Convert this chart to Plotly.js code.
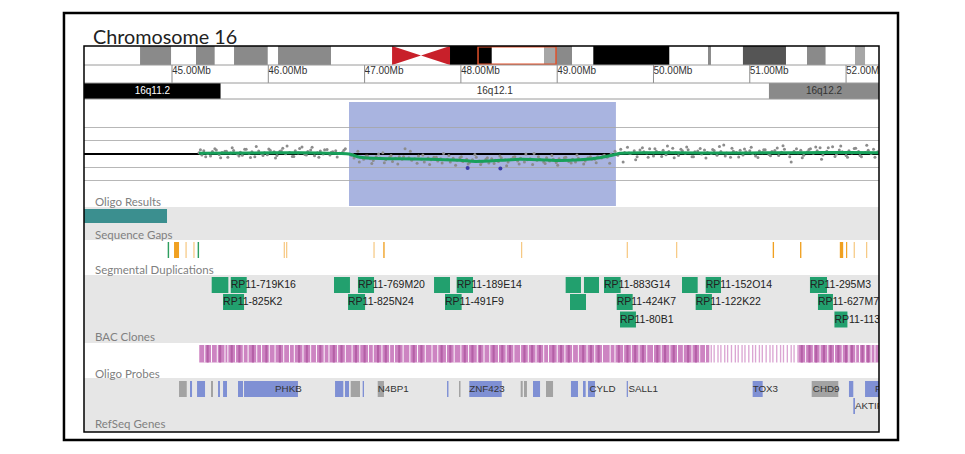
<!DOCTYPE html>
<html><head><meta charset="utf-8">
<script src="https://cdn.plot.ly/plotly-3.0.1.min.js"></script>
<style>body{margin:0;background:#fff}#chart{width:965px;height:454px}</style>
</head><body><div id="chart"></div>
<script>
// ================= DATA =================
const tickMb = [45, 46, 47, 48, 49, 50, 51, 52];
const tickLabels = ['45.00Mb', '46.00Mb', '47.00Mb', '48.00Mb', '49.00Mb', '50.00Mb', '51.00Mb', '52.00Mb'];

// ideogram (non-white bands)
const ideoStart = [44.668, 45.249, 45.644, 46.101, 47.887, 48.863, 48.988, 49.375, 50.566, 50.929, 51.594, 52.093];
const ideoEnd   = [44.990, 45.443, 45.994, 46.651, 48.320, 48.988, 49.154, 50.164, 50.597, 51.376, 51.787, 52.197];
const ideoStain = ['gpos50', 'gpos50', 'gpos50', 'gpos50', 'gpos100', 'gpos33', 'gpos50', 'gpos100', 'gpos50', 'gpos75', 'gpos50', 'gpos33'];
const cenStart = 47.285, cenMid = 47.586, cenEnd = 47.887;
const viewStart = 48.178, viewEnd = 48.988;

// cytobands
const bandName  = ['16q11.2', '16q12.1', '16q12.2'];
const bandStart = [43.9, 45.506, 51.199];
const bandEnd   = [45.506, 51.199, 52.6];
const bandStain = ['gpos100', 'gneg', 'gpos50'];

// deleted region
const delStart = 46.838, delEnd = 49.610;

// oligo results (log2 ratio)
const oligoX = [45.28,45.31,45.33,45.37,45.40,45.42,45.46,45.49,45.52,45.55,45.58,45.61,45.64,45.68,45.71,45.73,45.77,45.80,45.83,45.86,45.90,45.93,45.96,45.99,46.02,46.06,46.09,46.12,46.15,46.18,46.22,46.25,46.28,46.31,46.35,46.38,46.41,46.44,46.48,46.51,46.54,46.57,46.61,46.64,46.67,46.70,46.74,46.77,46.80,
46.86,46.89,46.93,46.96,46.99,47.03,47.06,47.09,47.12,47.16,47.19,47.22,47.26,47.29,47.32,47.36,47.39,47.42,47.46,47.49,47.52,47.56,47.59,47.62,47.66,47.69,47.72,47.76,47.79,47.82,47.86,47.89,47.92,47.96,47.99,48.02,48.06,48.09,48.12,48.16,48.19,48.22,48.26,48.29,48.32,48.36,48.39,48.42,48.46,48.49,48.52,48.56,48.59,48.62,48.66,48.69,48.72,48.76,48.79,48.82,48.86,48.89,48.92,48.96,48.99,49.02,49.06,49.09,49.12,49.16,49.19,49.22,49.26,49.29,49.32,49.36,49.39,49.42,49.46,49.49,49.52,49.56,
49.60,49.63,49.66,49.70,49.73,49.76,49.80,49.83,49.86,49.90,49.93,49.96,50.00,50.03,50.06,50.10,50.13,50.16,50.20,50.23,50.26,50.30,50.33,50.36,50.40,50.43,50.46,50.50,50.53,50.56,50.60,50.63,50.66,50.70,50.73,50.76,50.80,50.83,50.86,50.90,50.93,50.96,51.00,51.03,51.06,51.10,51.13,51.16,51.20,51.23,51.26,51.30,51.33,51.36,51.40,51.43,51.46,51.50,51.53,51.56,51.60,51.63,51.66,51.70,51.73,51.76,51.80,51.83,51.86,51.90,51.93,51.96,52.00,52.03,52.06,52.10,52.13,52.16,52.20,52.23,52.26,52.30,52.33,
45.295,45.35,45.445,45.505,45.565,45.625,45.695,45.755,45.815,45.875,45.945,46.005,46.075,46.135,46.195,46.265,46.325,46.395,46.455,46.525,46.585,46.655,46.715,46.785,
46.875,46.945,47.015,47.075,47.145,47.205,47.275,47.345,47.405,47.475,47.545,47.605,47.675,47.745,47.805,47.875,47.945,48.005,48.075,48.145,48.205,48.275,48.345,48.405,48.475,48.545,48.605,48.675,48.745,48.805,48.875,48.945,49.005,49.075,49.145,49.205,49.275,49.345,49.405,49.475,49.545,
49.615,49.685,49.745,49.815,49.885,49.945,50.015,50.085,50.145,50.215,50.285,50.345,50.415,50.485,50.545,50.615,50.685,50.745,50.815,50.885,50.945,51.015,51.085,51.145,51.215,51.285,51.345,51.415,51.485,51.545,51.615,51.685,51.745,51.815,51.885,51.945,52.015,52.085,52.145,52.215,52.285];
const oligoY = [0.05,-0.04,0.12,0.02,-0.08,0.09,0.15,-0.02,0.06,0.1,-0.12,0.04,0.13,0.0,0.07,-0.05,0.18,0.03,0.08,-0.1,0.11,0.02,0.05,-0.03,0.14,0.08,-0.06,0.1,0.22,0.01,0.06,-0.09,0.12,0.04,0.26,-0.02,0.09,0.15,-0.07,0.05,0.11,0.0,0.17,-0.04,0.08,0.12,0.03,0.06,0.2,
-0.05,-0.15,0.1,-0.12,-0.2,-0.08,-0.18,-0.25,-0.1,-0.15,0.05,-0.22,-0.12,-0.28,-0.16,-0.1,-0.2,0.2,-0.14,-0.24,-0.18,-0.08,-0.2,-0.3,-0.15,-0.22,-0.12,-0.26,-0.18,0.02,-0.2,-0.3,-0.16,-0.24,-0.14,-0.28,-0.2,-0.32,-0.22,-0.12,-0.26,-0.3,-0.2,-0.34,-0.18,-0.24,-0.28,-0.14,-0.22,-0.3,-0.2,-0.1,-0.26,-0.16,-0.3,-0.22,-0.18,0.02,-0.24,-0.2,-0.3,-0.14,-0.26,-0.2,-0.32,-0.18,-0.24,-0.12,-0.28,-0.2,-0.3,-0.16,-0.22,-0.26,-0.14,-0.2,-0.2,-0.1,-0.15,-0.05,-0.12,0.0,
0.1,-0.05,0.18,0.06,0.25,0.02,0.12,-0.1,0.15,0.08,0.04,0.2,-0.08,0.1,0.06,0.14,-0.03,0.09,0.22,0.05,-0.06,0.12,0.03,0.16,-0.1,0.08,0.11,0.0,0.15,0.06,0.02,0.13,-0.05,0.09,0.34,0.04,-0.12,0.1,0.06,0.14,-0.04,0.08,0.12,0.02,-0.08,0.11,0.05,0.16,-0.02,0.09,0.13,-0.06,0.07,0.18,0.02,-0.3,0.1,0.05,0.14,-0.05,0.08,0.2,0.03,0.12,0.24,-0.04,0.1,0.06,0.27,0.0,0.15,0.08,-0.06,0.12,0.04,0.22,0.09,-0.1,0.06,0.14,0.02,-0.12,0.08,
0.16,-0.1,0.2,-0.14,0.1,0.24,-0.08,0.18,-0.13,0.28,-0.06,0.19,-0.15,0.12,0.3,-0.09,0.21,-0.04,0.25,-0.12,0.16,0.07,-0.11,0.14,
-0.02,-0.3,-0.08,-0.36,0.0,-0.33,-0.06,-0.38,-0.1,0.1,-0.35,-0.04,-0.4,-0.12,-0.34,-0.06,-0.42,-0.1,-0.38,-0.02,-0.4,-0.14,-0.36,-0.08,-0.44,-0.12,-0.38,0.0,-0.4,-0.1,-0.36,-0.06,-0.42,-0.14,-0.34,-0.04,-0.38,-0.1,-0.33,-0.08,-0.35,-0.02,-0.3,0.04,-0.22,
0.24,-0.12,0.2,-0.09,0.3,-0.14,0.18,0.26,-0.1,0.21,-0.15,0.17,0.28,-0.08,0.22,-0.11,0.19,0.25,-0.13,0.16,-0.07,0.23,0.31,-0.1,0.2,-0.14,0.17,0.26,-0.2,0.24,-0.09,0.3,-0.12,0.21,-0.06,0.33,0.18,-0.11,0.25,-0.08,0.2];
const outlierX = [48.07, 48.41];
const outlierY = [-0.53, -0.55];
const smoothX = [45.28, 45.81, 46.33, 46.74, 46.84, 46.95, 47.16, 47.37, 47.68, 47.99, 48.15, 48.41, 48.61, 48.82, 49.03, 49.24, 49.44, 49.57, 49.65, 49.96, 50.48, 51.00, 51.52, 52.04, 52.34];
const smoothY = [0.03, 0.04, 0.05, 0.02, 0.0, -0.12, -0.17, -0.18, -0.2, -0.24, -0.28, -0.24, -0.2, -0.22, -0.25, -0.22, -0.14, -0.05, 0.03, 0.05, 0.04, 0.04, 0.05, 0.06, 0.05];

// sequence gaps
const gapStart = [43.9], gapEnd = [44.948];

// segmental duplications
const sdStart = [44.955, 45.021, 45.140, 45.222, 45.266, 46.160, 46.185, 47.092, 47.194, 48.625, 49.722, 50.235, 51.238, 51.522, 51.935, 52.000, 52.079, 52.208];
const sdEnd   = [44.970, 45.073, 45.152, 45.234, 45.281, 46.172, 46.197, 47.104, 47.208, 48.637, 49.734, 50.247, 51.252, 51.536, 51.970, 52.012, 52.091, 52.220];
const sdClass = ['g', 'o', 'l', 'l', 'g', 'l', 'l', 'l', 'o', 'l', 'l', 'l', 'o', 'o', 'o', 'o', 'l', 'l'];

// BAC clones
const bacStart = [45.412, 45.610, 46.682, 46.931, 47.721, 47.956, 49.088, 49.278, 49.486, 50.296, 50.542, 51.625, 45.530, 46.828, 47.835, 49.133, 49.618, 50.438, 51.708, 49.652, 51.879];
const bacEnd   = [45.585, 45.776, 46.848, 47.098, 47.887, 48.126, 49.247, 49.434, 49.659, 50.459, 50.701, 51.802, 45.748, 47.005, 48.008, 49.299, 49.784, 50.607, 51.864, 49.818, 52.014];
const bacRow   = [0, 0, 0, 0, 0, 0, 0, 0, 0, 0, 0, 0, 1, 1, 1, 1, 1, 1, 1, 2, 2];
const bacName  = ['', 'RP11-719K16', '', 'RP11-769M20', '', 'RP11-189E14', '', '', 'RP11-883G14', '', 'RP11-152O14', 'RP11-295M3', 'RP11-825K2', 'RP11-825N24', 'RP11-491F9', '', 'RP11-424K7', 'RP11-122K22', 'RP11-627M7', 'RP11-80B1', 'RP11-1137'];

// oligo probes
const probeDenseStart = [45.283, 51.504], probeDenseEnd = [50.580, 52.342];
const probeGap = [45.34,45.41,45.47,45.55,45.58,45.66,45.74,45.79,45.88,45.93,46.01,46.07,46.16,46.22,46.27,46.36,46.44,46.50,46.58,46.63,46.72,46.80,46.87,46.95,47.04,47.09,47.18,47.26,47.31,47.40,47.47,47.55,47.63,47.70,47.76,47.85,47.93,48.00,48.08,48.17,48.24,48.30,48.39,48.47,48.55,48.62,48.70,48.78,48.86,48.91,49.00,49.08,49.16,49.22,49.31,49.39,49.47,49.55,49.60,49.69,49.77,49.85,49.93,50.00,50.08,50.17,50.25,50.31,50.40,50.48,50.54,51.58,51.66,51.73,51.81,51.88,51.96,52.03,52.10,52.14,52.20,52.26,52.30];
const probeDark = [45.37,45.50,45.62,45.70,45.84,45.98,46.12,46.32,46.40,46.54,46.68,46.76,46.91,47.00,47.14,47.22,47.36,47.51,47.59,47.80,47.89,48.04,48.12,48.20,48.34,48.43,48.51,48.66,48.74,48.82,48.96,49.04,49.12,49.27,49.35,49.43,49.64,49.73,49.81,49.89,50.04,50.12,50.21,50.36,50.44,51.54,51.62,51.69,51.77,51.84,51.92,52.00,52.06,52.17,52.23];
const probeSparse = [50.60,50.63,50.67,50.70,50.74,50.77,50.81,50.85,50.88,50.92,50.95,50.99,51.03,51.06,51.10,51.13,51.17,51.21,51.24,51.28,51.32,51.35,51.39,51.43,51.46,51.50];

// RefSeq genes
const geneStart = [45.073, 45.187, 45.260, 45.405, 45.478, 45.530, 45.685, 45.748, 46.693, 46.796, 46.856, 46.980, 47.136, 47.856, 47.980, 48.087, 48.621, 48.655, 48.749, 48.884, 49.143, 49.268, 49.320, 49.722, 51.030, 51.643, 52.030, 52.197, 52.075];
const geneEnd   = [45.153, 45.208, 45.343, 45.426, 45.498, 45.571, 45.737, 46.308, 46.779, 46.838, 46.952, 46.994, 47.201, 47.871, 47.996, 48.424, 48.642, 48.686, 48.822, 48.957, 49.216, 49.296, 49.393, 49.735, 51.134, 51.919, 52.075, 52.500, 52.093];
const geneType  = ['n', 'c', 'c', 'n', 'c', 'c', 'c', 'c', 'c', 'c', 'n', 'c', 'n', 'c', 'n', 'c', 'n', 'n', 'c', 'n', 'c', 'c', 'c', 'c', 'c', 'n', 'c', 'c', 'c'];
const geneRow   = [0, 0, 0, 0, 0, 0, 0, 0, 0, 0, 0, 0, 0, 0, 0, 0, 0, 0, 0, 0, 0, 0, 0, 0, 0, 0, 0, 0, 1];
const geneLabel  = ['PHKB', 'N4BP1', 'ZNF423', 'CYLD', 'SALL1', 'TOX3', 'CHD9', 'FTO', 'AKTIP'];
const geneLabelX = [46.070, 47.136, 48.087, 49.335, 49.740, 51.030, 51.655, 52.300, 52.093];
const geneLabelRow = [0, 0, 0, 0, 0, 0, 0, 0, 1];

const trackNames = ['Oligo Results', 'Sequence Gaps', 'Segmental Duplications', 'BAC Clones', 'Oligo Probes', 'RefSeq Genes'];

// ================= LAYOUT CONSTANTS =================
const X0 = 44.086, X1 = 52.342;
const TOP = 46, BOT = 432, H = BOT - TOP;
const T = { ideo: [46, 65], ruler: [65, 83], band: [83, 99], oligo: [99, 207], gap: [207, 240], sd: [240, 275], bac: [275, 343], probe: [343, 378], gene: [378, 432] };
const trackLabelY = [201, 234, 269, 336, 373, 423];
const bacRowY = [285, 302, 319.5];
const geneRowY = [389, 406];
const stainColor = { gpos100: '#000000', gpos75: '#555555', gpos50: '#8a8a8a', gpos33: '#a6a6a6', gneg: '#ffffff' };
const sdColor = { g: '#2e9e5e', o: '#f0a020', l: '#f6c57a' };
const SANS = 'Liberation Sans, Arial, sans-serif';
const LABF = 'Lato, Open Sans, sans-serif';
const toPaper = py => (BOT - py) / H;

const shapes = [];
function rect(x0, x1, y0, y1, fill, layer) {
  shapes.push({ type: 'rect', xref: 'x', yref: 'y', x0, x1, y0, y1, fillcolor: fill, line: { width: 0 }, layer: layer || 'below' });
}
function prect(y0, y1, fill) {
  shapes.push({ type: 'rect', xref: 'paper', yref: 'y', x0: 0, x1: 1, y0, y1, fillcolor: fill, line: { width: 0 }, layer: 'below' });
}
function hline(y, color, w) {
  shapes.push({ type: 'line', xref: 'paper', yref: 'y', x0: 0, x1: 1, y0: y, y1: y, line: { color, width: w }, layer: 'above' });
}

// deletion highlight (paper-referenced so it sits beneath the oligo-panel gridlines)
shapes.push({ type: 'rect', xref: 'x', yref: 'paper', x0: delStart, x1: delEnd, y0: toPaper(206), y1: toPaper(102), fillcolor: '#a9b4e0', line: { width: 0 }, layer: 'below' });

// track backgrounds
prect(T.gap[0], T.gap[1], '#e6e6e6');
prect(T.bac[0], T.bac[1], '#e6e6e6');
prect(T.gene[0], T.gene[1], '#e6e6e6');

// ideogram
ideoStart.forEach((s, i) => rect(s, ideoEnd[i], T.ideo[0], T.ideo[1], stainColor[ideoStain[i]]));
const im = (T.ideo[0] + T.ideo[1]) / 2;
shapes.push({ type: 'path', xref: 'x', yref: 'y', path: `M${cenStart},${T.ideo[0]} L${cenMid},${im} L${cenStart},${T.ideo[1]} Z`, fillcolor: '#c8202a', line: { width: 0 }, layer: 'below' });
shapes.push({ type: 'path', xref: 'x', yref: 'y', path: `M${cenEnd},${T.ideo[0]} L${cenMid},${im} L${cenEnd},${T.ideo[1]} Z`, fillcolor: '#c8202a', line: { width: 0 }, layer: 'below' });
shapes.push({ type: 'rect', xref: 'x', yref: 'y', x0: viewStart, x1: viewEnd, y0: T.ideo[0] + 0.8, y1: T.ideo[1] - 0.8, fillcolor: 'rgba(0,0,0,0)', line: { color: '#e0502a', width: 1.5 }, layer: 'above' });

// ruler
tickMb.forEach(t => shapes.push({ type: 'line', xref: 'x', yref: 'y', x0: t, x1: t, y0: T.ruler[0], y1: T.ruler[1], line: { color: '#8c8c8c', width: 1 }, layer: 'above' }));

// cytobands
bandStart.forEach((s, i) => rect(s, bandEnd[i], T.band[0], T.band[1], stainColor[bandStain[i]]));

// sequence gaps
gapStart.forEach((s, i) => rect(s, gapEnd[i], 209, 223, '#3b8f8f'));

// segmental duplications
sdStart.forEach((s, i) => rect(s, sdEnd[i], 242, 258, sdColor[sdClass[i]]));

// BAC clones
bacStart.forEach((s, i) => rect(s, bacEnd[i], bacRowY[bacRow[i]] - 8, bacRowY[bacRow[i]] + 8, '#22a06e'));

// oligo probes
probeDenseStart.forEach((s, i) => rect(s, probeDenseEnd[i], 345, 362.5, '#cd84c2'));
probeDark.forEach(p => rect(p - 0.011, p + 0.011, 345, 362.5, '#b45fa6'));
probeGap.forEach(p => rect(p - 0.005, p + 0.005, 345, 362.5, '#ffffff'));
probeSparse.forEach(p => rect(p - 0.007, p + 0.007, 345, 362.5, '#dba6d3'));

// genes
geneStart.forEach((s, i) => rect(s, geneEnd[i], geneRowY[geneRow[i]] - 8, geneRowY[geneRow[i]] + 8, geneType[i] === 'c' ? '#7f90d4' : '#a3a3a3'));

// borders
hline(T.ideo[1], '#9a9a9a', 1);
hline(T.ruler[1], '#9a9a9a', 1);
hline(T.band[1], '#9a9a9a', 1);
shapes.push({ type: 'rect', xref: 'paper', yref: 'paper', x0: 0, x1: 1, y0: 0, y1: 1, fillcolor: 'rgba(0,0,0,0)', line: { color: '#000', width: 1.5 }, layer: 'above' });
shapes.push({ type: 'rect', xref: 'paper', yref: 'paper', x0: -0.0252, x1: 1.0239, y0: -0.0207, y1: 1.0855, fillcolor: 'rgba(0,0,0,0)', line: { color: '#000', width: 2.5 }, layer: 'above' });

// ================= TRACES =================
function textTrace(xs, ys, texts, size, color, family, pos) {
  return { type: 'scatter', mode: 'text', x: xs, y: ys, text: texts, textposition: pos || 'middle right',
    textfont: { size, color, family }, cliponaxis: true, hoverinfo: 'skip', xaxis: 'x', yaxis: 'y', showlegend: false };
}
const traces = [];
traces.push({ type: 'scatter', mode: 'markers', x: oligoX, y: oligoY, xaxis: 'x', yaxis: 'y2', marker: { size: 3, color: '#8c8c8c' }, hoverinfo: 'skip' });
traces.push({ type: 'scatter', mode: 'lines', x: smoothX, y: smoothY, xaxis: 'x', yaxis: 'y2', line: { color: '#17a05a', width: 3, shape: 'spline', smoothing: 0.6 }, hoverinfo: 'skip' });
traces.push({ type: 'scatter', mode: 'markers', x: outlierX, y: outlierY, xaxis: 'x', yaxis: 'y2', marker: { size: 4, color: '#3a3aa8' }, hoverinfo: 'skip' });

traces.push(textTrace(tickMb, tickMb.map(() => 71.5), tickLabels, 10, '#333', SANS));
const bandCx = bandStart.map((s, i) => (Math.max(s, X0) + Math.min(bandEnd[i], X1)) / 2);
traces.push(textTrace(bandCx, bandCx.map(() => 91.5), bandName, 10, bandStain.map(s => s === 'gpos100' ? '#ffffff' : '#333333'), SANS, 'middle center'));
const bi = bacName.map((n, i) => i).filter(i => bacName[i] !== '');
traces.push(textTrace(bi.map(i => bacStart[i]), bi.map(i => bacRowY[bacRow[i]] + 0.5), bi.map(i => bacName[i]), 10.5, '#222', SANS));
traces.push(textTrace(geneLabelX, geneLabelRow.map(r => geneRowY[r] + 0.5), geneLabel, 9.8, '#333', SANS));

const annotations = trackNames.map((n, i) => ({ xref: 'paper', yref: 'y', x: 9 / 795, y: trackLabelY[i], xanchor: 'left', yanchor: 'middle', text: n, showarrow: false, font: { family: LABF, size: 11.5, color: '#808080' } }));

const layout = {
  width: 965, height: 454, margin: { l: 84, r: 86, t: 46, b: 22, pad: 0 },
  paper_bgcolor: '#ffffff', plot_bgcolor: 'rgba(0,0,0,0)', showlegend: false,
  title: { text: 'Chromosome 16', xref: 'container', yref: 'container', x: 93 / 965, xanchor: 'left', y: 1 - 37 / 454, yanchor: 'middle', font: { family: LABF, size: 19.8, color: '#222' } },
  xaxis: { range: [X0, X1], showgrid: false, zeroline: false, showticklabels: false, ticks: '', showline: false, fixedrange: true },
  yaxis: { range: [BOT, TOP], domain: [0, 1], showgrid: false, zeroline: false, showticklabels: false, ticks: '', showline: false },
  yaxis2: { domain: [toPaper(T.oligo[1]), toPaper(T.oligo[0])], range: [-2, 2.075], anchor: 'x', tickvals: [-1, -0.5, 0.5, 1], showgrid: true, gridcolor: 'rgba(165,165,165,0.8)', gridwidth: 1.5,
    zeroline: true, zerolinecolor: '#000', zerolinewidth: 2, showticklabels: false, ticks: '', showline: false },
  shapes, annotations
};
Plotly.newPlot('chart', traces, layout, { staticPlot: true, displayModeBar: false });
</script></body></html>
